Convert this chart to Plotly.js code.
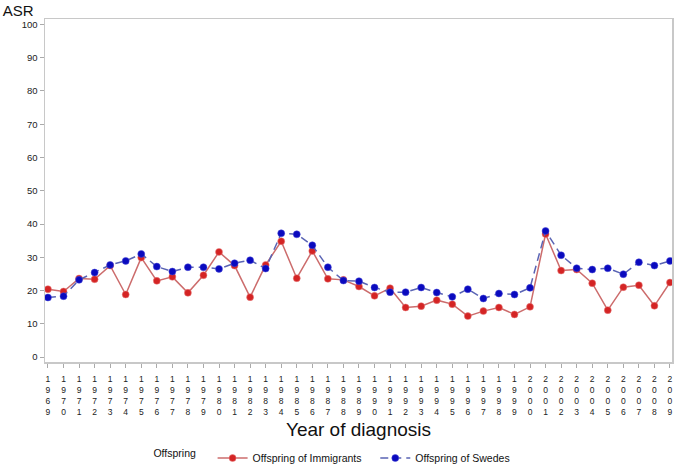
<!DOCTYPE html>
<html>
<head>
<meta charset="utf-8">
<script src="https://cdn.plot.ly/plotly-3.0.1.min.js"></script>
<style>
  html, body { margin: 0; padding: 0; background: #ffffff; }
  #chart { width: 674px; height: 469px; }
</style>
</head>
<body>
<div id="chart"></div>
<script>
// Year of diagnosis
const YEARS = [
  1969, 1970, 1971, 1972, 1973, 1974, 1975, 1976, 1977, 1978,
  1979, 1980, 1981, 1982, 1983, 1984, 1985, 1986, 1987, 1988,
  1989, 1990, 1991, 1992, 1993, 1994, 1995, 1996, 1997, 1998,
  1999, 2000, 2001, 2002, 2003, 2004, 2005, 2006, 2007, 2008, 2009
];

// ASR, offspring of immigrants
const ASR_IMMIGRANTS = [
  20.4, 19.7, 23.6, 23.4, 27.5, 18.8, 29.9, 22.9, 24.1, 19.3,
  24.6, 31.6, 27.5, 18.0, 27.7, 34.8, 23.7, 31.9, 23.5, 23.2,
  21.2, 18.4, 20.7, 14.9, 15.3, 17.1, 15.9, 12.3, 13.8, 14.9,
  12.8, 15.1, 37.0, 26.0, 26.3, 22.2, 14.1, 21.0, 21.6, 15.4, 22.4
];

// ASR, offspring of Swedes
const ASR_SWEDES = [
  17.9, 18.3, 23.2, 25.4, 27.7, 28.9, 31.0, 27.2, 25.7, 27.0,
  27.0, 26.5, 28.2, 29.1, 26.6, 37.2, 36.9, 33.6, 27.0, 23.0,
  22.8, 20.9, 19.5, 19.5, 20.9, 19.4, 18.1, 20.4, 17.6, 19.1,
  18.8, 20.8, 37.9, 30.6, 26.7, 26.3, 26.7, 24.9, 28.5, 27.5, 28.9
];

const Y_TICKS = [0, 10, 20, 30, 40, 50, 60, 70, 80, 90, 100];

const FONT = 'Liberation Sans, Arial, sans-serif';
const FRAME_COLOR = '#c8c8c8';

// digits of each year stacked vertically, like the original
const yearLabels = YEARS.map(y => String(y).split('').join('<br>'));

const traceImmigrants = {
  x: YEARS,
  y: ASR_IMMIGRANTS,
  name: 'Offspring of Immigrants   ',
  mode: 'lines+markers',
  line: {color: '#cc6c6c', width: 1.5},
  marker: {color: '#d42424', size: 7, line: {color: '#e88080', width: 0.5}}
};

const traceSwedes = {
  x: YEARS,
  y: ASR_SWEDES,
  name: 'Offspring of Swedes',
  mode: 'lines+markers',
  line: {color: '#5a64b4', width: 1.5, dash: '8px,5px'},
  marker: {color: '#0a0abe', size: 7, line: {color: '#4a4ad8', width: 0.5}}
};

const layout = {
  width: 674,
  height: 469,
  margin: {l: 45, r: 2, t: 19, b: 107, autoexpand: false},
  paper_bgcolor: '#ffffff',
  plot_bgcolor: '#ffffff',
  font: {family: FONT, color: '#222222'},
  title: {
    text: 'ASR',
    font: {family: FONT, size: 15, color: '#111111'},
    x: 0.004, xanchor: 'left', xref: 'container',
    y: 0.978, yanchor: 'middle', yref: 'container'
  },
  xaxis: {
    range: [1968.81, 2009.13],
    automargin: false,
    tickmode: 'array',
    tickvals: YEARS,
    ticktext: yearLabels,
    tickangle: 0,
    tickfont: {family: FONT, size: 8.5, color: '#222222'},
    ticks: 'outside',
    ticklen: 4,
    tickcolor: '#aaaaaa',
    ticklabelstandoff: 4,
    showgrid: false,
    zeroline: false,
    showline: true,
    mirror: true,
    linecolor: FRAME_COLOR,
    linewidth: 1.5,
    title: {
      text: 'Year of diagnosis',
      font: {family: FONT, size: 19, color: '#111111'}
    }
  },
  yaxis: {
    range: [-1.5, 101.65],
    automargin: false,
    tickmode: 'array',
    tickvals: Y_TICKS,
    tickfont: {family: FONT, size: 9.5, color: '#222222'},
    ticks: 'outside',
    ticklen: 4,
    tickcolor: '#aaaaaa',
    showgrid: false,
    zeroline: false,
    showline: true,
    mirror: true,
    linecolor: FRAME_COLOR,
    linewidth: 1.5
  },
  showlegend: true,
  legend: {
    orientation: 'h',
    x: 0.46, xanchor: 'center',
    y: -0.28, yanchor: 'middle',
    font: {family: FONT, size: 10.5, color: '#111111'},
    title: {text: 'Offspring   ', side: 'left', font: {family: FONT, size: 10.5}},
    itemwidth: 30,
    bgcolor: 'rgba(0,0,0,0)'
  }
};

const config = {displayModeBar: false, responsive: false, staticPlot: true};

Plotly.newPlot('chart', [traceImmigrants, traceSwedes], layout, config);
</script>
</body>
</html>
